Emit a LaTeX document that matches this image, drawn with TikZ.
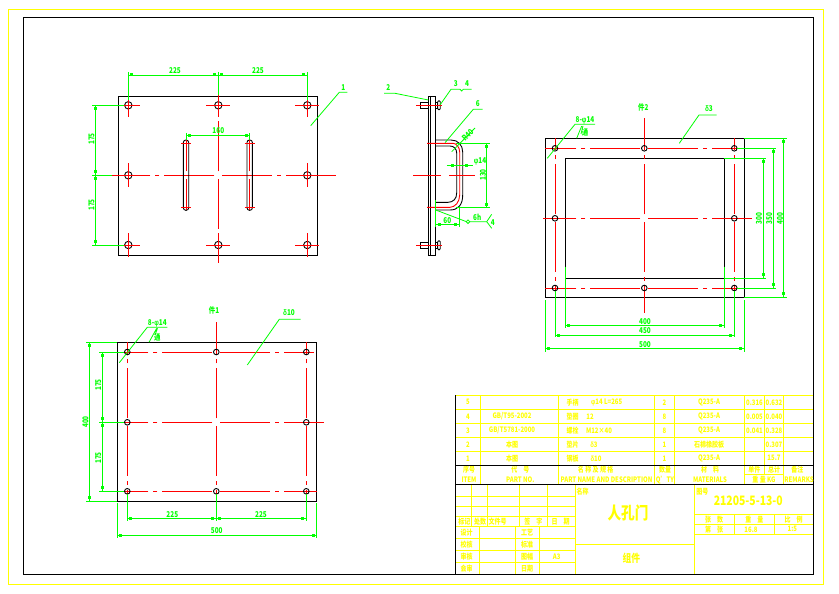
\documentclass[tikz,border=0pt]{standalone}
\usepackage{fontspec}
\setmainfont{Noto Sans CJK SC}
\newfontfamily\gk{Liberation Sans}
\definecolor{cy}{RGB}{255,255,0}
\definecolor{cg}{RGB}{0,255,0}
\definecolor{cr}{RGB}{255,0,0}
\newcount\lblc
\tikzset{
  ylw/.style={cy,line width=.9pt},
  blk/.style={black,line width=.9pt},
  grn/.style={cg,line width=.8pt},
  rdl/.style={cr,line width=.9pt},
  ctr/.style={cr,line width=.9pt,dash pattern=on 50pt off 5pt on 4pt off 5pt,dash phase=60pt},
  ytx/.style={text=cy,inner sep=0pt,font=\fontsize{7.5}{7.5}\bfseries\selectfont},
  gtx/.style={text=cg,inner sep=0pt,font=\fontsize{8}{8}\bfseries\selectfont},
}
\newcommand\Ty[4][]{\global\advance\lblc 1 \node[ytx,#1] (t\the\lblc) at (#2,#3) {\scalebox{.8}[1]{#4}};}
\newcommand\Tg[4][]{\global\advance\lblc 1 \node[gtx,#1] (t\the\lblc) at (#2,#3) {\scalebox{.8}[1]{#4}};}
\newcommand\Sq[2]{\fill[cg] (#1-1.5,#2-1.5) rectangle (#1+1.5,#2+1.5);}
\newcommand\DimH[3]{\draw[grn] (#1,#3) -- (#2,#3); \Sq{#1+3.5}{#3} \Sq{#2-3.5}{#3}}
\newcommand\DimV[3]{\draw[grn] (#3,#1) -- (#3,#2); \Sq{#3}{#1+3.5} \Sq{#3}{#2-3.5}}
\newcommand\Hole[3]{\draw[blk,fill=white] (#1,#2) circle (#3);}
\newcommand\Cross[3]{\draw[rdl] (#1-#3,#2) -- (#1+#3,#2) (#1,#2-#3) -- (#1,#2+#3);}
% centre lines drawn outward from their middle, so the dashes fall symmetrically
\newcommand\CH[4]{\draw[ctr] (#2,#4) -- (#1,#4); \draw[ctr] (#2,#4) -- (#3,#4);}
\newcommand\CV[4]{\draw[ctr] (#4,#2) -- (#4,#1); \draw[ctr] (#4,#2) -- (#4,#3);}
\begin{document}
\begin{tikzpicture}[x=1pt,y=-1pt]
\useasboundingbox (0,0) rectangle (839,594);
\fill[white] (0,0) rectangle (839,594);
% frames
\draw[cy,line width=1pt] (8.5,9.5) rectangle (823.5,584.5);
\draw[blk] (23.3,17.3) rectangle (813.3,574.3);

% ===== view 1 =====
\draw[blk] (118.3,96.3) rectangle (317.7,255.3);
\foreach \x in {128.3,218.3,307.3}{\foreach \y in {105.3,245}{\Hole{\x}{\y}{3.7}\Cross{\x}{\y}{12}}}
\foreach \x in {128.3,307.3}{\Hole{\x}{175.3}{3.7}\Cross{\x}{175.3}{12}}
\CV{90}{175.3}{263}{218.3}
\CH{111.7}{218.3}{336.7}{175.3}
\draw[blk,rounded corners=2.5pt] (183.3,140) rectangle (188.7,210.3);
\draw[blk,rounded corners=2.5pt] (247,140) rectangle (252.4,210.3);
\CV{140}{175.3}{210}{186}
\CV{140}{175.3}{210}{249.7}
\draw[rdl] (181,143.3) -- (191,143.3) (181,207.3) -- (191,207.3) (244.7,143.3) -- (254.7,143.3) (244.7,207.3) -- (254.7,207.3);
% dims view 1
\draw[grn] (128.3,72) -- (128.3,100) (218.3,72) -- (218.3,95) (307.3,72) -- (307.3,100);
\DimH{128.3}{218.3}{75} \DimH{218.3}{307.3}{75}
\Tg{175}{70.5}{225} \Tg{258}{70.5}{225}
\draw[grn] (92,105.3) -- (124,105.3) (92,175.3) -- (112,175.3) (92,245) -- (124,245);
\DimV{105.3}{175.3}{95.3} \DimV{175.3}{245}{95.3}
\Tg[rotate=90]{91.5}{139}{175} \Tg[rotate=90]{91.5}{205}{175}
\draw[grn] (186,133) -- (186,140) (249.7,133) -- (249.7,140);
\DimH{186}{249.7}{135.3}
\Tg{218.3}{131}{160}
\draw[grn] (310.7,125.7) -- (339.3,92.3) -- (347.3,92.3);
\Tg{343.3}{87.5}{1}

% ===== view 2 (side) =====
\draw[blk] (428.3,96.3) rectangle (435.7,255.3);
\draw[blk] (430.7,96.3) -- (430.7,255.3);
\foreach \y in {105.3,245.3}{
  \draw[blk] (420.3,\y-2.7) rectangle (428.3,\y+2.7);
  \draw[blk] (435.7,\y-3) rectangle (437.7,\y+3);
  \draw[blk,rounded corners=1pt] (437.7,\y-4.5) rectangle (440.2,\y+4.5);
  \draw[rdl] (416,\y) -- (442,\y);
}
% handle
\draw[blk] (435.7,140) -- (451,140) .. controls (458,140) and (462.7,145) .. (462.7,152) -- (462.7,195) .. controls (462.7,205) and (458,210) .. (450,210) -- (435.7,210);
\draw[blk] (435.7,146) -- (450,146) .. controls (454,146) and (456.7,149) .. (456.7,153) -- (456.7,193) .. controls (456.7,199) and (453,202.3) .. (448,202.3) -- (435.7,202.3);
\draw[rdl] (427,143.3) -- (453,143.3) .. controls (456,143.3) and (459.7,147) .. (459.7,152) -- (459.7,195) .. controls (459.7,202) and (455,207.3) .. (450,207.3) -- (427,207.3);
\CH{413}{445}{475}{175.3}
% side dims
\draw[grn] (456,143.3) -- (490,143.3) (456,207.3) -- (490,207.3);
\draw[grn] (486.7,143.3) -- (486.7,207.3);
\Sq{486.7}{146} \Sq{486.7}{204}
\Tg[rotate=90]{483}{175}{130}
\draw[grn] (446.7,165) -- (473.3,165);
\Sq{452.3}{165} \Sq{466.3}{165}
\Tg{480}{161}{{\gk φ}14}
\draw[grn] (451.7,151.7) -- (475,128);
\Tg[rotate=45]{467.7}{135}{R40}
\draw[grn] (435.7,200) -- (435.7,227) (459.3,207.3) -- (459.3,227);
\DimH{435.7}{459.3}{224.3}
\Tg{447.3}{220.5}{60}
\draw[grn] (435.7,210) -- (466,221.5);
\draw[grn] (468,221.7) circle (1.8);
\draw[grn] (470,221.7) -- (486.7,221.7) -- (491.7,214.3) (486.7,221.7) -- (491.7,228.3);
\Tg{477.3}{217}{6h}
\Tg{492.7}{222.5}{4}
\draw[grn] (384,93.3) -- (395,93.3) -- (428.3,100);
\Tg{388.3}{88}{2}
\draw[grn] (440,105) -- (451,89.3) -- (460,89.3) -- (461.7,91) -- (463.3,89.3) -- (471.7,89.3);
\Tg{455.7}{84}{3}
\Tg{467}{84}{4}
\draw[grn] (445,142.7) -- (473.3,109.3) -- (482.7,109.3);
\Tg{477.7}{104}{6}

% ===== view 3 =====
\draw[blk] (545.3,138.3) rectangle (744.3,297.3);
\draw[blk] (565.3,158.3) rectangle (724.3,278.3);
\CV{118.3}{218.3}{313.3}{644.3}
\CH{543.3}{644.3}{751.7}{218.3}
\CH{545.3}{644.3}{744.3}{148.3}
\CH{545.3}{644.3}{744.3}{288}
\CV{138.3}{218.3}{300}{555}
\CV{138.3}{218.3}{300}{734.3}
\foreach \x in {555,644.3,734.3}{\foreach \y in {148.3,288}{\draw[blk] (\x,\y) circle (2.8);}}
\foreach \x in {555,734.3}{\draw[blk] (\x,218.3) circle (2.8);}
\draw[grn] (724.3,158.3) -- (766,158.3) (724.3,278.3) -- (766,278.3);
\draw[grn] (737,148.3) -- (776,148.3) (737,288) -- (776,288);
\draw[grn] (744.3,138.3) -- (787,138.3) (744.3,297.3) -- (787,297.3);
\DimV{158.3}{278.3}{763.3} \DimV{148.3}{288}{773.3} \DimV{138.3}{297.3}{783.3}
\Tg[rotate=90]{759}{218.3}{300} \Tg[rotate=90]{769.3}{218.3}{350} \Tg[rotate=90]{780}{218.3}{400}
\draw[grn] (565.3,266.7) -- (565.3,328) (724.3,266.7) -- (724.3,328);
\draw[grn] (555,291) -- (555,337) (734.3,291) -- (734.3,337);
\draw[grn] (545.3,300) -- (545.3,352) (744.3,300) -- (744.3,352);
\DimH{565.3}{724.3}{325} \DimH{555}{734.3}{335} \DimH{545.3}{744.3}{348.3}
\Tg{645}{321.5}{400} \Tg{645}{330.7}{450} \Tg{645}{344.5}{500}
\draw[grn] (547.3,158.3) -- (575,124.3) -- (595,124.3);
\draw[grn] (576.7,138.3) -- (581.7,126) (581,134) -- (583,126);
\Tg{585}{120}{8-{\gk φ}14}
\Tg{585}{133}{通}
\Tg{643.3}{107}{件2}
\draw[grn] (679.3,143.3) -- (699,115) -- (716.7,115);
\Tg{709}{109}{{\gk δ}3}

% ===== view 4 =====
\draw[blk] (117.3,342.3) rectangle (316.7,501.3);
\CV{321.7}{422.3}{518}{216.3}
\CH{117.3}{216.3}{324}{422.3}
\CH{122}{216.3}{314}{352}
\CH{122}{216.3}{316.7}{491.3}
\CV{342.3}{422.3}{501.3}{127.3}
\CV{342.3}{422.3}{501.3}{306.3}
\foreach \x in {127.3,216.3,306.3}{\foreach \y in {352,491.3}{\draw[blk] (\x,\y) circle (2.8);}}
\foreach \x in {127.3,306.3}{\draw[blk] (\x,422.3) circle (2.8);}
\draw[grn] (86,342.3) -- (117.3,342.3) (86,501.3) -- (117.3,501.3);
\draw[grn] (99,352) -- (124,352) (99,422.3) -- (124,422.3) (99,491.3) -- (124,491.3);
\DimV{342.3}{501.3}{89.3}
\DimV{352}{422.3}{102.3} \DimV{422.3}{491.3}{102.3}
\Tg[rotate=90]{85.5}{422}{400}
\Tg[rotate=90]{98.3}{385}{175} \Tg[rotate=90]{98.3}{458}{175}
\draw[grn] (127.3,494) -- (127.3,521) (216.3,494) -- (216.3,521) (306.3,494) -- (306.3,521);
\draw[grn] (117.3,503) -- (117.3,538) (316.7,503) -- (316.7,538);
\DimH{127.3}{216.3}{518.3} \DimH{216.3}{306.3}{518.3}
\DimH{117.3}{316.7}{535}
\Tg{172.3}{514.5}{225} \Tg{261}{514.5}{225} \Tg{216.7}{530.5}{500}
\draw[grn] (119.3,362.7) -- (147.3,327.3) -- (167.3,327.3);
\draw[grn] (149,342.3) -- (156.7,328.3) (155,335) -- (157.5,328.3);
\Tg{157.3}{323.5}{8-{\gk φ}14}
\Tg{157.3}{337.5}{通}
\Tg{214}{310}{件1}
\draw[grn] (247.3,365) -- (279.3,319.3) -- (300.7,319.3);
\Tg{289}{313}{{\gk δ}10}

% ===== title block: parts list =====
\foreach \y in {395.3,409.3,423.3,437.3,451.3}{\draw[ylw] (455.3,\y) -- (813.3,\y);}
\foreach \x in {480.3,558.3,654.3,674.3,744.3,764.7,783.7}{\draw[ylw] (\x,395.3) -- (\x,465.3);}
\foreach \x in {480.3,558.3,654.3,674.3,744.3,783.7}{\draw[ylw] (\x,465.3) -- (\x,484.3);}
\draw[ylw] (764.7,465.3) -- (764.7,474.7);
\draw[ylw] (744.3,474.7) -- (783.7,474.7);
\foreach \n/\y/\pno/\nm/\spc/\sx/\q/\mat/\un/\tot in {
  5/402.3/{}/手柄/{{\gk φ}14 L=265}/606.7/2/Q235-A/0.316/0.632,
  4/416.3/{GB/T95-2002}/垫圈/12/590/8/Q235-A/0.005/0.040,
  3/430.3/{GB/T5781-2000}/螺栓/M12×40/599/8/Q235-A/0.041/0.328,
  2/444.3/本图/垫片/{{\gk δ}3}/594/1/石棉橡胶板/{}/0.307,
  1/458.3/本图/钢板/{{\gk δ}10}/596/1/Q235-A/{}/15.7}{
  \Ty{468}{\y}{\n}
  \Ty{512}{\y}{\pno}
  \Ty{572.5}{\y}{\nm}
  \Ty{\sx}{\y}{\spc}
  \Ty{664.5}{\y}{\q}
  \Ty{709}{\y}{\mat}
  \Ty{754.5}{\y}{\un}
  \Ty{774}{\y}{\tot}
}
\Ty{469}{470}{序号} \Ty{469}{480}{ITEM}
\Ty{520.3}{470}{代\quad 号} \Ty{520.3}{480}{PART NO.}
\Ty{595.7}{470}{名\ 称\ 及\ 规\ 格} \Ty{606.5}{480}{PART NAME AND DESCRIPTION}
\Ty{665}{469.5}{数量} \Ty{665}{480}{Q'TY}
\Ty{710}{469.5}{材\quad 料} \Ty{710}{480}{MATERIALS}
\Ty{754.3}{469.5}{单件} \Ty{774}{469.5}{总计} \Ty{764}{479.5}{重\ 量\ KG}
\Ty{797.3}{469.5}{备注} \Ty{799}{480}{REMARKS}

% lower block
\foreach \y in {496.3,506.3,516.3,526.3,538.3,550.3,562.3}{\draw[ylw] (455.3,\y) -- (575.3,\y);}
\foreach \x in {471.3,487.3,519.3,547.3}{\draw[ylw] (\x,484.3) -- (\x,526.3);}
\foreach \x in {479.3,515.3,539.3}{\draw[ylw] (\x,526.3) -- (\x,574.3);}
\draw[ylw] (575.3,484.3) -- (575.3,574.3);
\draw[ylw] (694.3,484.3) -- (694.3,574.3);
\draw[ylw] (575.3,544.3) -- (694.3,544.3);
\foreach \y in {514.3,524.3,534.3}{\draw[ylw] (694.3,\y) -- (813.3,\y);}
\foreach \x in {734.3,774.3}{\draw[ylw] (\x,514.3) -- (\x,534.3);}
\Ty{464.3}{521.3}{标记} \Ty{480}{521.3}{处数} \Ty{497.7}{521.3}{文件号}
\Ty{533.3}{521.3}{签\quad 字} \Ty{560.7}{521.3}{日\quad 期}
\Ty{466.7}{532.7}{设计} \Ty{466.7}{544.7}{校核} \Ty{466.7}{556.7}{审核} \Ty{466.7}{568.3}{会审}
\Ty{527}{532.7}{工艺} \Ty{527}{544.7}{标准} \Ty{527}{556.7}{图幅} \Ty{527}{568.3}{日期}
\Ty{556.7}{556.7}{A3}
\Ty{582.7}{491.7}{名称}
\Ty[font=\fontsize{17}{17}\bfseries\selectfont]{628}{513.3}{人孔门}
\Ty[font=\fontsize{11}{11}\bfseries\selectfont]{631.3}{558.3}{组件}
\Ty{702.3}{491.7}{图号}
\Ty[font=\fontsize{13}{13}\bfseries\selectfont]{748.3}{500.7}{21205-5-13-0}
\Ty{714}{519.3}{张\quad 数} \Ty{754.3}{519.3}{重\quad 量} \Ty{793.7}{519.3}{比\quad 例}
\Ty{714}{529.3}{第\quad 张} \Ty{751}{529.3}{16.8} \Ty{792.3}{529.3}{1:5}

% black rules of the block (on top)
\draw[blk] (455.3,395.3) -- (455.3,574.3);
\draw[blk] (455.3,465.3) -- (813.3,465.3);
\draw[blk] (455.3,484.3) -- (813.3,484.3);
\end{tikzpicture}
\end{document}
